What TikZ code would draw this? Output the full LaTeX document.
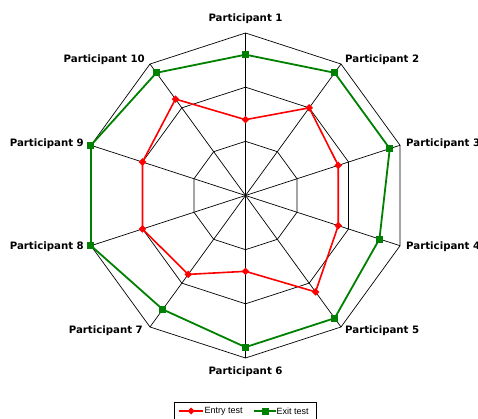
\documentclass[tikz,border=0pt]{standalone}
\usepackage{fontspec}
\setmainfont{DejaVu Sans}
\newfontfamily\legfont{Liberation Sans}
\definecolor{exitgreen}{RGB}{0,128,0}
\begin{document}
\begin{tikzpicture}[x=1pt,y=-1pt,
  gridline/.style={black, line width=0.7pt},
  entryline/.style={red, line width=1.6pt, line join=round},
  exitline/.style={exitgreen, line width=1.8pt, line join=round},
  lab/.style={font=\bfseries\fontsize{10.2}{12}\selectfont, inner sep=0pt},
  legtext/.style={font=\legfont\fontsize{9}{10}\selectfont, inner sep=0pt, anchor=west},
]
\useasboundingbox (0,0) rectangle (478,419);
\def\cx{245.5}\def\cy{195.5}\def\R{162.5}
\coordinate (O) at (\cx,\cy);
\foreach \i in {1,...,10}{
  \pgfmathsetmacro\a{90-36*(\i-1)}
  \foreach \k in {1,2,3}{
    \coordinate (g\k-\i) at ({\cx+\k*\R/3*cos(\a)},{\cy-\k*\R/3*sin(\a)});
  }
}
% grid rings
\foreach \k in {1,2,3}{
  \draw[gridline] (g\k-1) -- (g\k-2) -- (g\k-3) -- (g\k-4) -- (g\k-5) -- (g\k-6) -- (g\k-7) -- (g\k-8) -- (g\k-9) -- (g\k-10) -- cycle;
}
% spokes
\foreach \i in {1,...,10}{ \draw[gridline] (O) -- (g3-\i); }
% data
\foreach \i/\v/\w in {1/7/13,2/10/14,3/9/14,4/9/13,5/11/14,6/7/14,7/9/13,8/10/15,9/10/15,10/11/14}{
  \pgfmathsetmacro\a{90-36*(\i-1)}
  \coordinate (e\i) at ({\cx+\v/15*\R*cos(\a)},{\cy-\v/15*\R*sin(\a)});
  \coordinate (x\i) at ({\cx+\w/15*\R*cos(\a)},{\cy-\w/15*\R*sin(\a)});
}
\draw[entryline] (e1) -- (e2) -- (e3) -- (e4) -- (e5) -- (e6) -- (e7) -- (e8) -- (e9) -- (e10) -- cycle;
\draw[exitline] (x1) -- (x2) -- (x3) -- (x4) -- (x5) -- (x6) -- (x7) -- (x8) -- (x9) -- (x10) -- cycle;
\foreach \i in {1,...,10}{
  \fill[red] (e\i) +(0,-3.8) -- +(3.8,0) -- +(0,3.8) -- +(-3.8,0) -- cycle;
  \fill[exitgreen] (x\i) +(-3.5,-3.5) rectangle +(3.5,3.5);
}
% labels
\node[lab] (p1) at (245.5,19) {Participant 1};
\node[lab,anchor=west] (p2) at (345,60) {Participant 2};
\node[lab,anchor=west] (p3) at (406,144) {Participant 3};
\node[lab,anchor=west] (p4) at (406,247) {Participant 4};
\node[lab,anchor=west] (p5) at (345,331) {Participant 5};
\node[lab] (p6) at (245.5,372) {Participant 6};
\node[lab,anchor=east] (p7) at (143,331) {Participant 7};
\node[lab,anchor=east] (p8) at (84,247) {Participant 8};
\node[lab,anchor=east] (p9) at (84,144) {Participant 9};
\node[lab,anchor=east] (p10) at (145,60) {Participant 10};
% legend
\draw[black, line width=0.6pt] (174,402) rectangle (316,423);
\coordinate (l1a) at (179,411); \coordinate (l1b) at (203,411);
\coordinate (l1m) at (191,411);
\draw[entryline] (l1a) -- (l1b);
\fill[red] (l1m) +(0,-3.5) -- +(3.5,0) -- +(0,3.5) -- +(-3.5,0) -- cycle;
\node[legtext] (lt1) at (204.5,411) {Entry test};
\coordinate (l2a) at (254,411); \coordinate (l2b) at (276,411);
\coordinate (l2m) at (265,411);
\draw[exitline] (l2a) -- (l2b);
\fill[exitgreen] (l2m) +(-3.5,-3.5) rectangle +(3.5,3.5);
\node[legtext] (lt2) at (276.5,411) {Exit test};
\end{tikzpicture}
\end{document}
